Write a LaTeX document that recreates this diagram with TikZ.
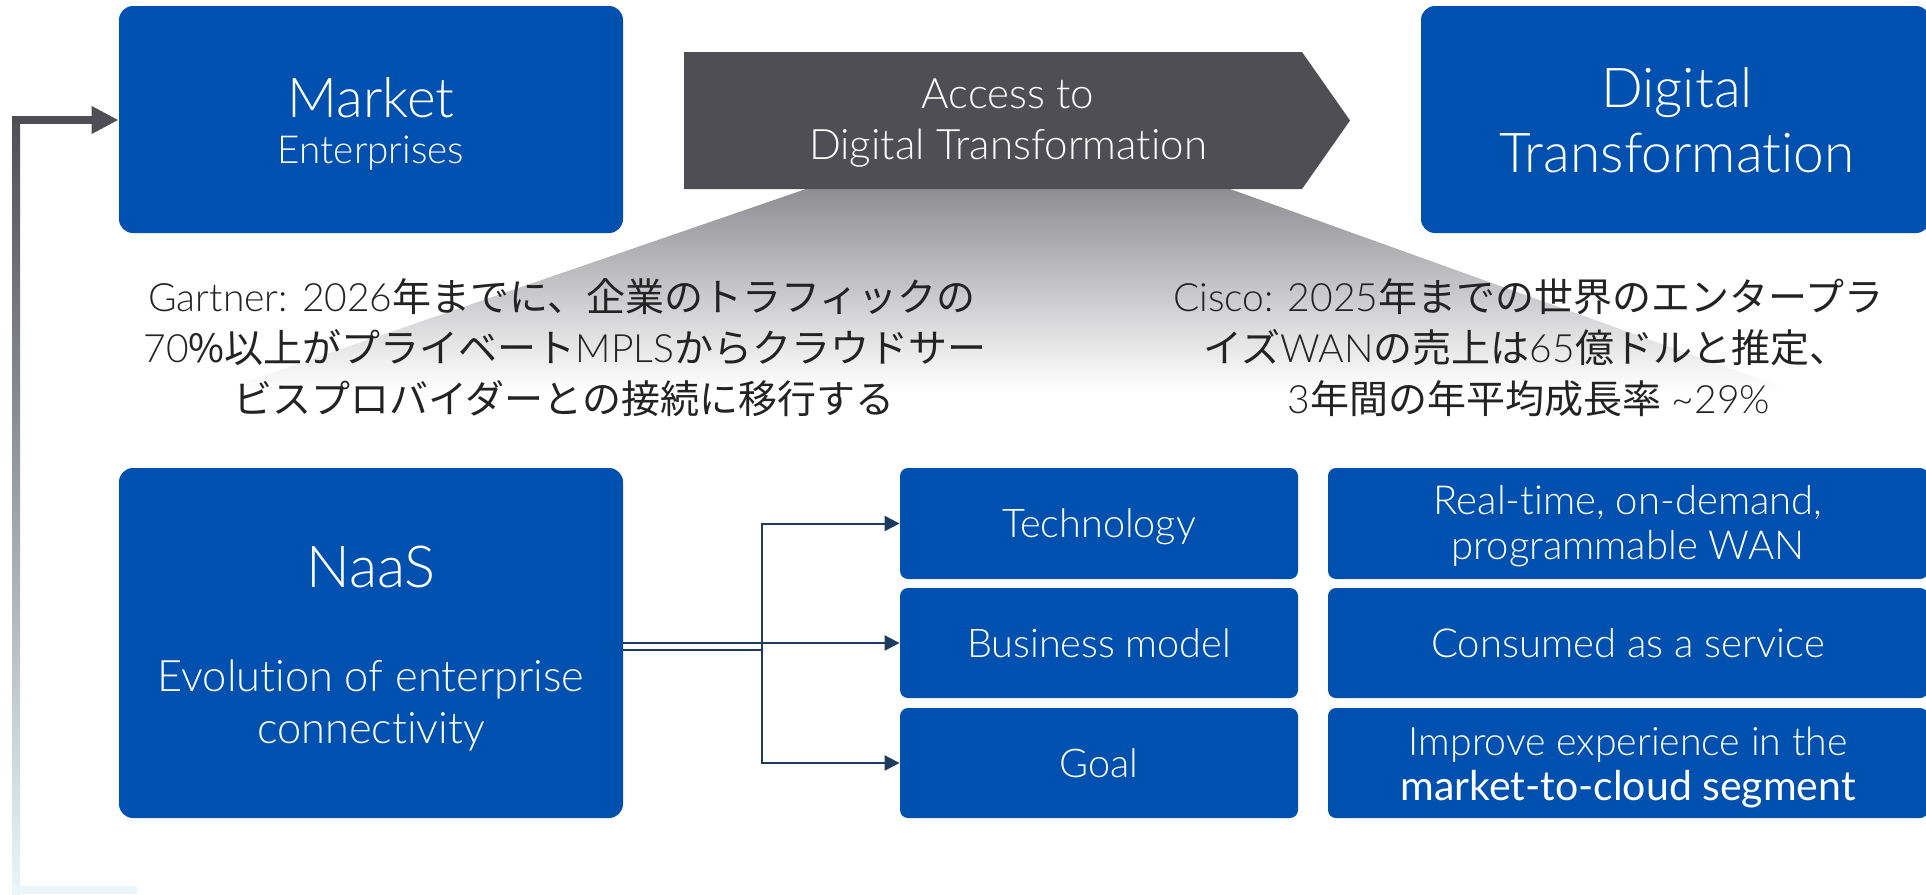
\documentclass[tikz,border=0pt]{standalone}
\usepackage{fontspec}
\setmainfont{Lato}[UprightFont={* Light},BoldFont={Lato},Ligatures=NoCommon]
\newfontfamily\latoreg{Lato}[Ligatures=NoCommon]
\newfontfamily\cjk{Noto Sans CJK JP}
\usetikzlibrary{arrows.meta}
\definecolor{ciscoblue}{RGB}{0,81,175}
\definecolor{arrowgray}{RGB}{79,78,84}
\definecolor{midgray}{RGB}{150,150,155}
\definecolor{shadegray}{RGB}{143,142,147}
\definecolor{connblue}{RGB}{31,58,96}
\definecolor{txtdark}{RGB}{35,35,35}
\definecolor{paleline}{RGB}{234,246,249}
\newcommand{\myfs}[1]{\fontsize{#1}{#1}\selectfont}
\tikzset{
 bigbox/.style={fill=ciscoblue, rounded corners=7pt, inner sep=0pt},
 smallbox/.style={fill=ciscoblue, rounded corners=4pt, inner sep=0pt},
 lbl/.style={inner sep=0pt, text=white, anchor=base},
 dlbl/.style={inner sep=0pt, text=txtdark, anchor=base, font=\myfs{19.5}},
 conn/.style={draw=connblue, line width=1pt},
 connarrow/.style={conn, -{Triangle[length=7.5pt,width=7.5pt]}},
}
\begin{document}
\begin{tikzpicture}[x=0.5pt,y=-0.5pt]
\useasboundingbox (0,0) rectangle (1926,894);
% funnel shading
\shade[top color=shadegray, bottom color=white] (806,189) -- (1230,189) -- (1790,390) -- (222,390) -- cycle;
% gray arrow
\fill[arrowgray] (684,52) -- (1302,52) -- (1350,120.5) -- (1302,189) -- (684,189) -- cycle;
\node[lbl, font=\myfs{21}] (acc1) at (1008,108) {Access to};
\node[lbl, font=\myfs{21}] (acc2) at (1008,159) {Digital Transformation};
% top boxes
\node[bigbox, minimum width=252pt, minimum height=113.5pt] (market) at (371,119.5) {};
\node[lbl, font=\myfs{27.5}] (mkt1) at (371,117) {Market};
\node[lbl, font=\myfs{19.3}] (mkt2) at (371,163) {Enterprises};
\node[bigbox, minimum width=254.5pt, minimum height=113.5pt] (dt) at (1675.5,119.5) {};
\node[lbl, font=\myfs{27.5}] (dt1) at (1677,107) {Digital};
\node[lbl, font=\myfs{27.5}] (dt2) at (1677,172) {Transformation};
% statements
\node[dlbl] (g1) at (562,311) {Gartner: 2026{\cjk 年までに、企業のトラフィックの}};
\node[dlbl] (g2) at (565,362) {70{\cjk \%以上がプライベート}MPLS{\cjk からクラウドサー}};
\node[dlbl] (g3) at (564,413) {{\cjk ビスプロバイダーとの接続に移行する}};
\node[dlbl] (c1) at (1528,311) {Cisco: 2025{\cjk 年までの世界のエンタープラ}};
\node[dlbl] (c2) at (1526,362) {{\cjk イズ}WAN{\cjk の売上は}65{\cjk 億ドルと推定、}};
\node[dlbl] (c3) at (1529,413) {3{\cjk 年間の年平均成長率} \textasciitilde29\%};
% left loop connector
\shade[top color=arrowgray, middle color=midgray, bottom color=paleline] (12,116) rectangle (20,894);
\fill[paleline] (12,886) rectangle (137,894);
\coordinate (loopcorner) at (12,120);
\draw[line width=4pt, arrowgray, -{Triangle[length=13.5pt,width=13pt]}] (loopcorner) -- (loopcorner -| market.west);
% NaaS
\node[bigbox, minimum width=252pt, minimum height=175pt] (naas) at (371,643) {};
\node[lbl, font=\myfs{29}] (naas1) at (371,587) {NaaS};
\node[lbl, font=\myfs{21.7}] (naas2) at (371,691) {Evolution of enterprise};
\node[lbl, font=\myfs{21.7}] (naas3) at (371,743) {connectivity};
% middle column
\node[smallbox, minimum width=199pt, minimum height=55.5pt] (tech) at (1099,523.5) {};
\node[lbl, font=\myfs{19.8}] (tech1) at (1099,537) {Technology};
\node[smallbox, minimum width=199pt, minimum height=55pt] (biz) at (1099,643) {};
\node[lbl, font=\myfs{19.8}] (biz1) at (1099,657) {Business model};
\node[smallbox, minimum width=199pt, minimum height=55pt] (goal) at (1099,763) {};
\node[lbl, font=\myfs{19.8}] (goal1) at (1099,777) {Goal};
% right column
\node[smallbox, minimum width=300pt, minimum height=55.5pt] (r1) at (1628,523.5) {};
\node[lbl, font=\myfs{20}] (r1a) at (1628,514) {Real-time, on-demand,};
\node[lbl, font=\myfs{20}] (r1b) at (1628,559) {programmable WAN};
\node[smallbox, minimum width=300pt, minimum height=55pt] (r2) at (1628,643) {};
\node[lbl, font=\myfs{20}] (r2a) at (1628,657) {Consumed as a service};
\node[smallbox, minimum width=300pt, minimum height=55pt] (r3) at (1628,763) {};
\node[lbl, font=\myfs{19.6}] (r3a) at (1628,755) {Improve experience in the};
\node[lbl, font=\myfs{20.5}\latoreg] (r3b) at (1628,800) {market-to-cloud segment};
% connectors
\coordinate (split) at (762,650);
\draw[conn] ([yshift=-3.5pt]naas.east) -- (split);
\draw[connarrow] (split) |- (tech.west);
\draw[connarrow] (split) |- (goal.west);
\draw[connarrow] (naas.east) -- (biz.west);
\end{tikzpicture}
\end{document}
